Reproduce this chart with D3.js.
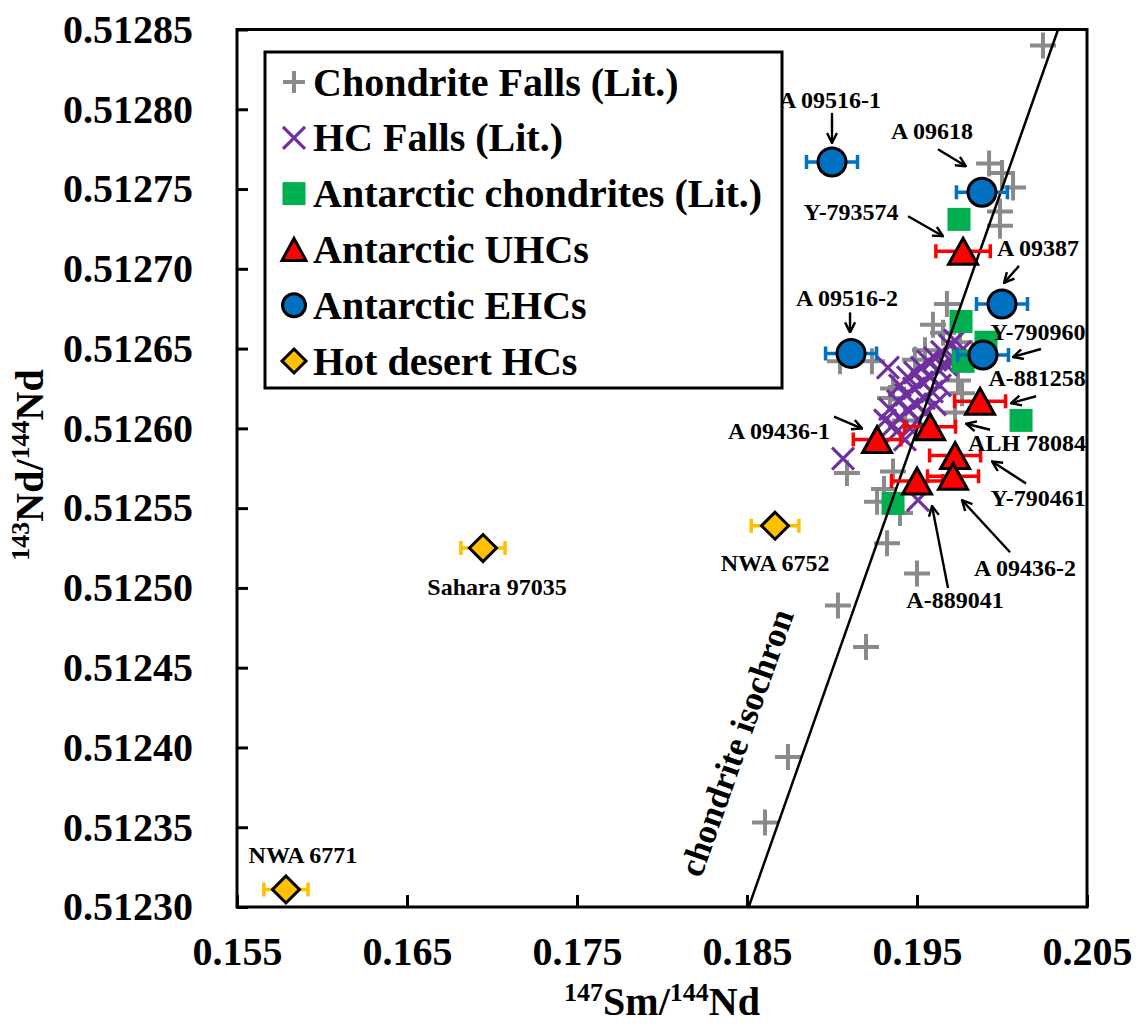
<!DOCTYPE html>
<html>
<head>
<meta charset="utf-8">
<script src="https://cdn.jsdelivr.net/npm/d3@7"></script>
<style>
body { margin: 0; background: #fff; }
text { font-family: "Liberation Serif", "Times New Roman", serif; font-weight: bold; }
</style>
</head>
<body>
<svg id="chart" width="1136" height="1027"></svg>
<script>
// ---- data ----
var xTicks = [0.155, 0.165, 0.175, 0.185, 0.195, 0.205];
var yTicks = [0.51230, 0.51235, 0.51240, 0.51245, 0.51250, 0.51255, 0.51260,
              0.51265, 0.51270, 0.51275, 0.51280, 0.51285];

// Chondrite falls (literature) [147Sm/144Nd, 143Nd/144Nd]
var chondriteFalls = [
    [0.20241, 0.512840], [0.19924, 0.512766], [0.20000, 0.512760], [0.20065, 0.512751],
    [0.19988, 0.512736], [0.19988, 0.512727], [0.19676, 0.512678], [0.19594, 0.512665],
    [0.19653, 0.512660], [0.19753, 0.512654], [0.19235, 0.512642], [0.19047, 0.512642],
    [0.19359, 0.512625], [0.19341, 0.512619], [0.19741, 0.512630], [0.19765, 0.512622],
    [0.19724, 0.512610], [0.19429, 0.512605], [0.19547, 0.512649], [0.19488, 0.512643],
    [0.19088, 0.512572], [0.19359, 0.512573], [0.19306, 0.512562], [0.19265, 0.512554],
    [0.19324, 0.512528], [0.19500, 0.512509], [0.19035, 0.512489], [0.19200, 0.512463],
    [0.18741, 0.512394], [0.18606, 0.512353], [0.19400, 0.512547]
];

// HC falls (literature)
var hcFalls = [
    [0.19694, 0.512652], [0.19647, 0.512648], [0.19606, 0.512644], [0.19565, 0.512642],
    [0.19529, 0.512638], [0.19488, 0.512635], [0.19447, 0.512632], [0.19400, 0.512627],
    [0.19671, 0.512640], [0.19624, 0.512637], [0.19576, 0.512632], [0.19529, 0.512629],
    [0.19482, 0.512625], [0.19435, 0.512621], [0.19388, 0.512617], [0.19635, 0.512627],
    [0.19588, 0.512623], [0.19541, 0.512619], [0.19494, 0.512615], [0.19447, 0.512612],
    [0.19400, 0.512607], [0.19547, 0.512610], [0.19506, 0.512605], [0.19459, 0.512600],
    [0.19606, 0.512615], [0.19724, 0.512643], [0.19341, 0.512612], [0.19359, 0.512602],
    [0.19065, 0.512581], [0.19506, 0.512555], [0.19329, 0.512638], [0.19724, 0.512655],
    [0.19753, 0.512648], [0.19312, 0.512605], [0.19382, 0.512598], [0.19429, 0.512593]
];

// Antarctic chondrites (literature)
var antChondrites = [
    [0.19747, 0.512731], [0.19759, 0.512667], [0.19906, 0.512654], [0.19771, 0.512642],
    [0.20112, 0.512605], [0.19359, 0.512553]
];

// samples: value, x error, label offset (px), arrow start/end offsets (px)
var antUHCs = [
    {name: 'Y-793574',  sm: 0.19771, nd: 0.512711, err: 0.0016, lab: [-112, -39], arr: [-55, -35, -20, -15]},
    {name: 'A-881258',  sm: 0.19871, nd: 0.512617, err: 0.0015, lab: [57, -23],   arr: [56, -5, 31, 2]},
    {name: 'ALH 78084', sm: 0.19577, nd: 0.512601, err: 0.0015, lab: [97, 16],    arr: [60, 3, 36, -3]},
    {name: 'A 09436-1', sm: 0.19265, nd: 0.512593, err: 0.0014, lab: [-98, -9],   arr: [-43, -23, -15, -11]},
    {name: 'Y-790461',  sm: 0.19724, nd: 0.512583, err: 0.0015, lab: [83, 43],    arr: [71, 28, 37, 6]},
    {name: 'A 09436-2', sm: 0.19712, nd: 0.512570, err: 0.0015, lab: [72, 92],    arr: [57, 76, 9, 24]},
    {name: 'A-889041',  sm: 0.19500, nd: 0.512567, err: 0.0015, lab: [38, 119],   arr: [31, 107, 15, 25]}
];

var antEHCs = [
    {name: 'A 09516-1', sm: 0.19000, nd: 0.512767, err: 0.0015, lab: [-2, -62],  arr: [0, -49, 0, -19]},
    {name: 'A 09618',   sm: 0.19882, nd: 0.512748, err: 0.0015, lab: [-50, -61], arr: [-44, -43, -16, -26]},
    {name: 'A 09387',   sm: 0.20000, nd: 0.512678, err: 0.0015, lab: [36, -56],  arr: [17, -38, 2, -21]},
    {name: 'Y-790960',  sm: 0.19888, nd: 0.512646, err: 0.0015, lab: [55, -23],  arr: [58, -6, 30, 2]},
    {name: 'A 09516-2', sm: 0.19112, nd: 0.512647, err: 0.0015, lab: [-4, -55],  arr: [-1, -41, -1, -21]}
];

var hotDesertHCs = [
    {name: 'NWA 6771',     sm: 0.15788, nd: 0.512311, err: 0.0013, lab: [17, -34]},
    {name: 'Sahara 97035', sm: 0.16947, nd: 0.512525, err: 0.0013, lab: [14, 39]},
    {name: 'NWA 6752',     sm: 0.18665, nd: 0.512539, err: 0.0014, lab: [0, 37]}
];

// chondrite isochron end points and its label position
var isochron = [[0.1851, 0.5123], [0.2033, 0.51285]];
var isochronLabel = [0.18440, 0.512403];

var legendNames = ['Chondrite Falls (Lit.)', 'HC Falls (Lit.)', 'Antarctic chondrites (Lit.)',
                   'Antarctic UHCs', 'Antarctic EHCs', 'Hot desert HCs'];

// ---- chart ----
var GRAY = '#8a8a8a', PURPLE = '#7030a0', GREEN = '#00b050',
    RED = '#ff0000', BLUE = '#0070c0', ORANGE = '#ffc000';

var plotL = 237, plotT = 29.5, plotR = 1087, plotB = 907;
var svg = d3.select('#chart');

var x = d3.scaleLinear().domain([0.155, 0.205]).range([plotL, plotR]);
var y = d3.scaleLinear().domain([0.5123, 0.51285]).range([plotB, plotT]);

var defs = svg.append('defs');
defs.append('clipPath').attr('id', 'plotclip')
    .append('rect').attr('x', plotL).attr('y', plotT)
    .attr('width', plotR - plotL).attr('height', plotB - plotT);
defs.append('marker')
    .attr('id', 'arrowhead')
    .attr('viewBox', '0 0 12 12')
    .attr('refX', 11).attr('refY', 6)
    .attr('markerWidth', 12).attr('markerHeight', 12)
    .attr('markerUnits', 'userSpaceOnUse')
    .attr('orient', 'auto')
    .append('path')
    .attr('d', 'M1,1 L11,6 L1,11')
    .attr('fill', 'none').attr('stroke', '#000').attr('stroke-width', 2.4);

// axes
var yAxis = svg.append('g')
    .attr('transform', 'translate(' + plotL + ',0)')
    .call(d3.axisLeft(y).tickValues(yTicks).tickFormat(d3.format('.5f'))
        .tickSize(-11).tickPadding(44));
var xAxis = svg.append('g')
    .attr('transform', 'translate(0,' + plotB + ')')
    .call(d3.axisBottom(x).tickValues(xTicks).tickFormat(d3.format('.3f'))
        .tickSize(-12).tickPadding(30));
[xAxis, yAxis].forEach(function(a) {
    a.select('.domain').remove();
    a.selectAll('line').attr('stroke', '#000').attr('stroke-width', 3);
    a.selectAll('text').attr('fill', '#000').style('font-size', '40px')
        .style('font-family', '"Liberation Serif", "Times New Roman", serif')
        .style('font-weight', 'bold');
});

// axis titles
var xt = svg.append('text').attr('x', 662).attr('y', 1015)
    .attr('text-anchor', 'middle').style('font-size', '40px');
xt.append('tspan').text('147').style('font-size', '26px').attr('dy', -14);
xt.append('tspan').text('Sm/').attr('dy', 14);
xt.append('tspan').text('144').style('font-size', '26px').attr('dy', -14);
xt.append('tspan').text('Nd').attr('dy', 14);

var yt = svg.append('text').attr('transform', 'translate(43,465) rotate(-90)')
    .attr('text-anchor', 'middle').style('font-size', '40px');
yt.append('tspan').text('143').style('font-size', '26px').attr('dy', -14);
yt.append('tspan').text('Nd/').attr('dy', 14);
yt.append('tspan').text('144').style('font-size', '26px').attr('dy', -14);
yt.append('tspan').text('Nd').attr('dy', 14);

var plot = svg.append('g').attr('clip-path', 'url(#plotclip)');

// symbol helpers
function plusPath(s) { return 'M' + (-s) + ',0H' + s + 'M0,' + (-s) + 'V' + s; }
function xPath(s) { return 'M' + (-s) + ',' + (-s) + 'L' + s + ',' + s + 'M' + (-s) + ',' + s + 'L' + s + ',' + (-s); }
function triPath(w, h) { return 'M0,' + (-h / 2) + 'L' + (w / 2) + ',' + (h / 2) + 'L' + (-w / 2) + ',' + (h / 2) + 'Z'; }
function diaPath(s) { return 'M0,' + (-s) + 'L' + s + ',0L0,' + s + 'L' + (-s) + ',0Z'; }

function drawPlus(g, cx, cy, s) {
    g.append('path').attr('d', plusPath(s)).attr('transform', 'translate(' + cx + ',' + cy + ')')
        .attr('stroke', GRAY).attr('stroke-width', 4).attr('fill', 'none');
}
function drawX(g, cx, cy, s) {
    g.append('path').attr('d', xPath(s)).attr('transform', 'translate(' + cx + ',' + cy + ')')
        .attr('stroke', PURPLE).attr('stroke-width', 3.2).attr('fill', 'none');
}
function drawSquare(g, cx, cy, s) {
    g.append('rect').attr('x', cx - s / 2).attr('y', cy - s / 2)
        .attr('width', s).attr('height', s).attr('fill', GREEN);
}
function drawTri(g, cx, cy, w, h) {
    g.append('path').attr('d', triPath(w, h)).attr('transform', 'translate(' + cx + ',' + cy + ')')
        .attr('fill', RED).attr('stroke', '#000').attr('stroke-width', 3).attr('stroke-linejoin', 'miter');
}
function drawCircle(g, cx, cy, r) {
    g.append('circle').attr('cx', cx).attr('cy', cy).attr('r', r)
        .attr('fill', BLUE).attr('stroke', '#000').attr('stroke-width', 3);
}
function drawDia(g, cx, cy, s) {
    g.append('path').attr('d', diaPath(s)).attr('transform', 'translate(' + cx + ',' + cy + ')')
        .attr('fill', ORANGE).attr('stroke', '#000').attr('stroke-width', 3);
}
function errBar(g, d, color) {
    var x0 = x(d.sm - d.err), x1 = x(d.sm + d.err), cy = y(d.nd);
    g.append('path')
        .attr('d', 'M' + x0 + ',' + cy + 'H' + x1 + 'M' + x0 + ',' + (cy - 7) + 'V' + (cy + 7) +
              'M' + x1 + ',' + (cy - 7) + 'V' + (cy + 7))
        .attr('stroke', color).attr('stroke-width', 3.5).attr('fill', 'none');
}

// literature data
chondriteFalls.forEach(function(d) { drawPlus(plot, x(d[0]), y(d[1]), 13); });
hcFalls.forEach(function(d) { drawX(plot, x(d[0]), y(d[1]), 11); });
antChondrites.forEach(function(d) { drawSquare(plot, x(d[0]), y(d[1]), 23); });

// isochron
plot.append('path')
    .attr('d', d3.line().x(function(d) { return x(d[0]); }).y(function(d) { return y(d[1]); })(isochron))
    .attr('stroke', '#000').attr('stroke-width', 2.5).attr('fill', 'none');

var ang = Math.atan2(y(isochron[1][1]) - y(isochron[0][1]), x(isochron[1][0]) - x(isochron[0][0])) * 180 / Math.PI;
svg.append('text')
    .attr('transform', 'translate(' + x(isochronLabel[0]) + ',' + y(isochronLabel[1]) + ') rotate(' + ang + ')')
    .attr('text-anchor', 'middle').attr('dominant-baseline', 'central')
    .style('font-size', '35px').text('chondrite isochron');

// samples
hotDesertHCs.forEach(function(d) { errBar(plot, d, ORANGE); });
hotDesertHCs.forEach(function(d) { drawDia(plot, x(d.sm), y(d.nd), 13.5); });
antUHCs.forEach(function(d) { errBar(plot, d, RED); });
antUHCs.forEach(function(d) { drawTri(plot, x(d.sm), y(d.nd), 29, 26); });
antEHCs.forEach(function(d) { errBar(plot, d, BLUE); });
antEHCs.forEach(function(d) { drawCircle(plot, x(d.sm), y(d.nd), 14); });

// sample labels and arrows
var ann = svg.append('g');
antUHCs.concat(antEHCs).concat(hotDesertHCs).forEach(function(d) {
    var px = x(d.sm), py = y(d.nd);
    ann.append('text').attr('x', px + d.lab[0]).attr('y', py + d.lab[1])
        .attr('text-anchor', 'middle').attr('dominant-baseline', 'central')
        .style('font-size', '24px').text(d.name);
    if (d.arr) {
        ann.append('line')
            .attr('x1', px + d.arr[0]).attr('y1', py + d.arr[1])
            .attr('x2', px + d.arr[2]).attr('y2', py + d.arr[3])
            .attr('stroke', '#000').attr('stroke-width', 2.4)
            .attr('marker-end', 'url(#arrowhead)');
    }
});

// frame
svg.append('rect').attr('x', plotL).attr('y', plotT)
    .attr('width', plotR - plotL).attr('height', plotB - plotT)
    .attr('fill', 'none').attr('stroke', '#000').attr('stroke-width', 3);

// legend
var lg = svg.append('g');
lg.append('rect').attr('x', 265).attr('y', 52).attr('width', 517).attr('height', 336)
    .attr('fill', '#fff').attr('stroke', '#000').attr('stroke-width', 3);
legendNames.forEach(function(name, i) {
    var cy = 82 + i * 55.8, cx = 294;
    if (i === 0) drawPlus(lg, cx, cy, 11);
    if (i === 1) drawX(lg, cx, cy, 11);
    if (i === 2) drawSquare(lg, cx, cy, 23);
    if (i === 3) drawTri(lg, cx, cy, 24, 22);
    if (i === 4) drawCircle(lg, cx, cy, 11.5);
    if (i === 5) drawDia(lg, cx, cy, 12);
    lg.append('text').attr('x', 313).attr('y', cy)
        .attr('dominant-baseline', 'central')
        .style('font-size', '40px').text(name);
});
</script>
</body>
</html>
